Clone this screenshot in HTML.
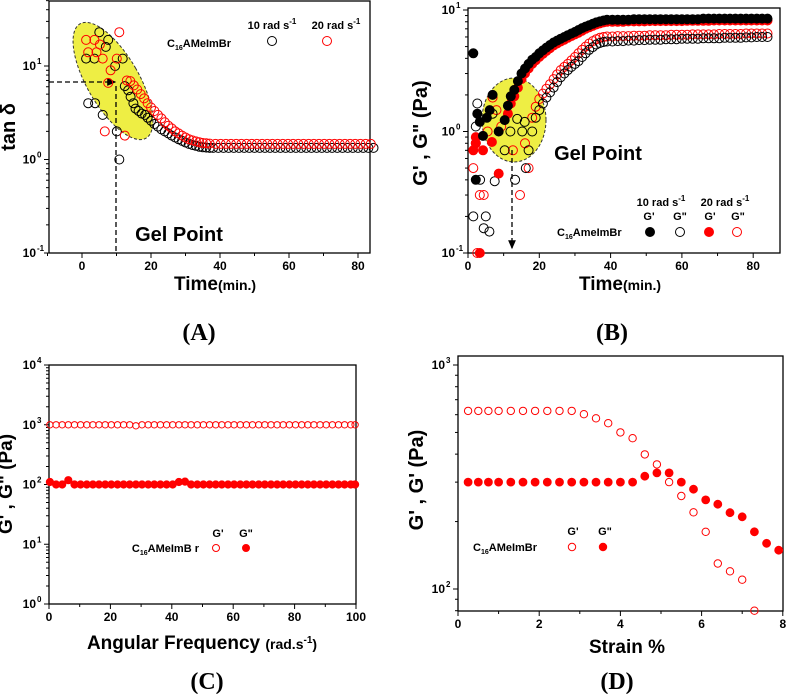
<!DOCTYPE html>
<html><head><meta charset="utf-8">
<style>
html,body{margin:0;padding:0;background:#fff;}
svg{display:block;font-family:"Liberation Sans",Arial,sans-serif;}
.b{font-weight:bold;}
.tm{font-family:"Liberation Serif","Times New Roman",serif;font-weight:bold;}
</style></head>
<body>
<svg id="fig" width="787" height="694" viewBox="0 0 787 694">
<defs>
<marker id="arr" markerWidth="8" markerHeight="8" refX="6" refY="4" orient="auto"><path d="M0,1 L7,4 L0,7 Z" fill="#000"/></marker>
</defs>
<!-- Panel A decorations -->
<ellipse cx="113" cy="81" rx="26" ry="66" transform="rotate(-30 113 81)" fill="#eeee44" stroke="#333" stroke-width="1" stroke-dasharray="3,2"/>
<line x1="49" y1="82" x2="115" y2="82" stroke="#000" stroke-width="1.3" stroke-dasharray="5,3" marker-end="url(#arr)"/>
<line x1="116" y1="86" x2="116" y2="253" stroke="#000" stroke-width="1.3" stroke-dasharray="5,3"/>
<!-- Panel B decorations -->
<ellipse cx="514" cy="120" rx="32" ry="42" fill="#eeee44" stroke="#333" stroke-width="1" stroke-dasharray="3,2"/>
<g id="pa"></g><g id="pb"></g><g id="pc"></g><g id="pd"></g>
<line x1="512" y1="150" x2="512" y2="248" stroke="#000" stroke-width="1.3" stroke-dasharray="5,3" marker-end="url(#arr)"/>

<!-- Titles -->
<text x="15" y="127" class="b" font-size="20" text-anchor="middle" transform="rotate(-90 15 127)">tan δ</text>
<text x="215" y="290" class="b" font-size="19" text-anchor="middle">Time<tspan font-size="14">(min.)</tspan></text>
<text x="199" y="340" class="tm" font-size="24" text-anchor="middle">(A)</text>
<text x="179" y="161" class="b" font-size="20" text-anchor="middle" transform="translate(0,80)">Gel Point</text>
<text x="167" y="47" class="b" font-size="11">C<tspan font-size="7" dy="3">16</tspan><tspan dy="-3">AMeImBr</tspan></text>
<text x="272" y="29" class="b" font-size="11" text-anchor="middle">10 rad s<tspan font-size="8" dy="-5">-1</tspan></text>
<text x="336" y="29" class="b" font-size="11" text-anchor="middle">20 rad s<tspan font-size="8" dy="-5">-1</tspan></text>
<circle cx="272" cy="41" r="4.5" fill="none" stroke="#000"/>
<circle cx="327" cy="41" r="4.5" fill="none" stroke="#f00"/>

<text x="427" y="133" class="b" font-size="20" text-anchor="middle" transform="rotate(-90 427 133)">G' ,  G" (Pa)</text>
<text x="620" y="290" class="b" font-size="19" text-anchor="middle">Time<tspan font-size="14">(min.)</tspan></text>
<text x="612" y="340" class="tm" font-size="24" text-anchor="middle">(B)</text>
<text x="598" y="160" class="b" font-size="20" text-anchor="middle">Gel Point</text>
<text x="661" y="206" class="b" font-size="11" text-anchor="middle">10 rad s<tspan font-size="8" dy="-5">-1</tspan></text>
<text x="725" y="206" class="b" font-size="11" text-anchor="middle">20 rad s<tspan font-size="8" dy="-5">-1</tspan></text>
<text x="649" y="220" class="b" font-size="11" text-anchor="middle">G'</text>
<text x="680" y="220" class="b" font-size="11" text-anchor="middle">G"</text>
<text x="710" y="220" class="b" font-size="11" text-anchor="middle">G'</text>
<text x="738" y="220" class="b" font-size="11" text-anchor="middle">G"</text>
<text x="557" y="236" class="b" font-size="11">C<tspan font-size="7" dy="3">16</tspan><tspan dy="-3">AmeImBr</tspan></text>
<circle cx="650" cy="232" r="4.5" fill="#000" stroke="#000"/>
<circle cx="680" cy="232" r="4.5" fill="none" stroke="#000"/>
<circle cx="709" cy="232" r="4.5" fill="#f00" stroke="#f00"/>
<circle cx="737" cy="232" r="4.5" fill="none" stroke="#f00"/>

<text x="12" y="484" class="b" font-size="19" text-anchor="middle" transform="rotate(-90 12 484)">G' ,  G" (Pa)</text>
<text x="202" y="649" class="b" font-size="19" text-anchor="middle">Angular Frequency <tspan font-size="14">(rad.s<tspan font-size="10" dy="-6">-1</tspan><tspan dy="6">)</tspan></tspan></text>
<text x="207" y="689" class="tm" font-size="24" text-anchor="middle">(C)</text>
<text x="218" y="537" class="b" font-size="11" text-anchor="middle">G'</text>
<text x="246" y="537" class="b" font-size="11" text-anchor="middle">G"</text>
<text x="199" y="552" class="b" font-size="11" text-anchor="end">C<tspan font-size="7" dy="3">16</tspan><tspan dy="-3">AMeImB r</tspan></text>
<circle cx="216" cy="548" r="3.5" fill="none" stroke="#f00"/>
<circle cx="246" cy="548" r="3.5" fill="#f00" stroke="#f00"/>

<text x="423" y="480" class="b" font-size="20" text-anchor="middle" transform="rotate(-90 423 480)">G' ,  G' (Pa)</text>
<text x="627" y="653" class="b" font-size="19" text-anchor="middle">Strain %</text>
<text x="617" y="689" class="tm" font-size="24" text-anchor="middle">(D)</text>
<text x="573" y="535" class="b" font-size="11" text-anchor="middle">G'</text>
<text x="605" y="535" class="b" font-size="11" text-anchor="middle">G"</text>
<text x="473" y="551" class="b" font-size="11">C<tspan font-size="7" dy="3">16</tspan><tspan dy="-3">AMeImBr</tspan></text>
<circle cx="572" cy="547" r="3.7" fill="none" stroke="#f00"/>
<circle cx="603" cy="547" r="3.7" fill="#f00" stroke="#f00"/>
</svg>
<script>
// ---------- Panel A data (tan delta vs time) ----------
const aBlackT=[1.2,1.8,3.6,3.8,5,6,6.9,7.6,9.6,10.1,10.8,11.8,12.4,13.4,14.1,14.9,15.5,16.4,17.3,18.3,19,20,21,22,23,24,25,26,27,28,29,30,31,32,33,34,35,36,37,38,39.5,41,42.5,44,45.5,47,48.5,50,51.5,53,54.5,56,57.5,59,60.5,62,63.5,65,66.5,68,69.5,71,72.5,74,75.5,77,78.5,80,81.5,83,84.5];
const aBlackV=[12,4,12,4,23,3,16,19,10,2,1,12,6.1,5.5,4.7,4.0,3.5,3.3,3.1,3.0,2.8,2.6,2.4,2.25,2.1,2.0,1.9,1.8,1.72,1.65,1.58,1.52,1.47,1.43,1.40,1.37,1.35,1.34,1.33,1.33,1.33,1.33,1.33,1.33,1.33,1.33,1.33,1.33,1.33,1.33,1.33,1.33,1.33,1.33,1.33,1.33,1.33,1.33,1.33,1.33,1.33,1.33,1.33,1.33,1.33,1.33,1.33,1.33,1.33,1.33,1.33];
const aRedT=[1.2,1.8,3.6,4.2,5.2,6,6.6,7.6,8.3,10.1,10.8,12.4,13,14,15,16,17,18,19,20,21,22,23,24,25,26,27,28,29,30,31,32,33,34,35,36,37,38.7,40.2,41.7,43.2,44.7,46.2,47.7,49.2,50.7,52.2,53.7,55.2,56.7,58.2,59.7,61.2,62.7,64.2,65.7,67.2,68.7,70.2,71.7,73.2,74.7,76.2,77.7,79.2,80.7,82.2,83.7];
const aRedV=[19,14,19,14,17,12,2,6.6,9,12,23,1.8,7.0,6.9,6.2,5.6,5.0,4.5,4.0,3.6,3.3,3.0,2.75,2.5,2.3,2.15,2.0,1.9,1.8,1.72,1.65,1.6,1.56,1.53,1.5,1.49,1.48,1.47,1.47,1.47,1.47,1.47,1.47,1.47,1.47,1.47,1.47,1.47,1.47,1.47,1.47,1.47,1.47,1.47,1.47,1.47,1.47,1.47,1.47,1.47,1.47,1.47,1.47,1.47,1.47,1.47,1.47,1.47];
const aXTicks=[0,20,40,60,80];
const aYDecades=[-1,0,1];

// ---------- Panel B data (G', G'' vs time) ----------
const bGp10T=[1.5,2.2,2.6,3.3,4.2,5.3,6.1,6.9,8.6,10.3,11.2,12,13,14,15,16,17,18,19,20,21,22,23,24,25,26,27,28,29,30,31,32,33,34,35,36,37,38,39,40.5,42,43.5,45,46.5,48,49.5,51,52.5,54,55.5,57,58.5,60,61.5,63,64.5,66,67.5,69,70.5,72,73.5,75,76.5,78,79.5,81,82.5,84];
const bGp10V=[4.4,0.4,1.4,1.2,0.92,1.3,1.5,2.0,1.0,1.24,1.63,1.95,2.2,2.6,3.0,3.3,3.6,3.9,4.1,4.4,4.65,4.9,5.15,5.4,5.6,5.8,6.0,6.2,6.4,6.6,6.85,7.1,7.3,7.5,7.7,7.9,8.05,8.2,8.3,8.3,8.3,8.3,8.3,8.4,8.4,8.4,8.4,8.4,8.4,8.4,8.4,8.4,8.4,8.4,8.4,8.4,8.5,8.5,8.5,8.5,8.5,8.5,8.5,8.5,8.5,8.5,8.5,8.5,8.5];
const bGp20T=[1.5,2.2,2.2,3.3,4.2,6.7,8.6,11.2,12,13,14,15,16,17,18,19,20,21,22,23,24,25,26,27,28,29,30,31,32,33,34,35,36,37,38,39,40.5,42,43.5,45,46.5,48,49.5,51,52.5,54,55.5,57,58.5,60,61.5,63,64.5,66,67.5,69,70.5,72,73.5,75,76.5,78,79.5,81,82.5,84];
const bGp20V=[0.7,0.9,0.8,0.1,0.7,0.82,0.45,1.4,1.7,1.95,2.3,2.7,3.0,3.3,3.6,3.85,4.1,4.35,4.6,4.85,5.1,5.3,5.5,5.7,5.9,6.1,6.3,6.5,6.75,7.0,7.2,7.4,7.6,7.75,7.9,8.0,8.0,8.0,8.0,8.05,8.05,8.05,8.05,8.1,8.1,8.1,8.1,8.1,8.1,8.1,8.15,8.15,8.15,8.15,8.15,8.2,8.2,8.2,8.2,8.2,8.2,8.2,8.2,8.2,8.2,8.2];
const bGpp10T=[1.5,2.2,2.6,3.4,4.4,5.0,6.0,6.9,7.5,10.3,11.9,13.2,13.8,15.2,15.9,16.2,17.0,18.0,19,20,21,22,23,24,25,26,27,28,29,30,31,32,33,34,35,36,37,38,39,40.5,42,43.5,45,46.5,48,49.5,51,52.5,54,55.5,57,58.5,60,61.5,63,64.5,66,67.5,69,70.5,72,73.5,75,76.5,78,79.5,81,82.5,84];
const bGpp10V=[0.2,1.1,1.7,0.4,0.16,0.2,0.15,1.4,0.39,0.7,1.0,0.4,1.27,1.0,1.2,0.5,0.7,1.0,1.3,1.5,1.7,1.9,2.1,2.3,2.55,2.8,3.0,3.2,3.4,3.6,3.8,4.1,4.4,4.7,4.95,5.2,5.35,5.45,5.5,5.5,5.55,5.55,5.6,5.6,5.65,5.65,5.7,5.7,5.7,5.75,5.75,5.75,5.8,5.8,5.8,5.8,5.85,5.85,5.85,5.85,5.9,5.9,5.9,5.9,5.95,5.95,6.0,6.0,6.0];
const bGpp20T=[1.5,2.2,2.6,3.3,4.4,5.5,6.9,8,9.3,12.6,14.6,16,17,18,19,20,21,22,23,24,25,26,27,28,29,30,31,32,33,34,35,36,37,38,39,40.5,42,43.5,45,46.5,48,49.5,51,52.5,54,55.5,57,58.5,60,61.5,63,64.5,66,67.5,69,70.5,72,73.5,75,76.5,78,79.5,81,82.5,84];
const bGpp20V=[0.5,0.8,0.1,0.3,0.3,1.0,1.9,1.5,1.1,0.7,0.3,0.8,0.5,1.3,1.6,1.85,2.05,2.25,2.45,2.7,2.95,3.2,3.4,3.6,3.85,4.1,4.4,4.7,5.0,5.3,5.55,5.75,5.9,6.0,6.05,6.05,6.1,6.1,6.1,6.15,6.15,6.15,6.2,6.2,6.2,6.2,6.25,6.25,6.25,6.25,6.3,6.3,6.3,6.3,6.3,6.35,6.35,6.35,6.35,6.35,6.4,6.4,6.4,6.4,6.4];
const bXTicks=[0,20,40,60,80];
const bYDecades=[-1,0,1];

// ---------- Panel C data (frequency sweep) ----------
const cFreq=[0.3,2.3,4.3,6.3,8.3,10.3,12.3,14.3,16.3,18.3,20.3,22.3,24.3,26.3,28.3,30.3,32.3,34.3,36.3,38.3,40.3,42.3,44.3,46.3,48.3,50.3,52.3,54.3,56.3,58.3,60.3,62.3,64.3,66.3,68.3,70.3,72.3,74.3,76.3,78.3,80.3,82.3,84.3,86.3,88.3,90.3,92.3,94.3,96.3,98.3,99.7];
const cGp=[1000,1000,1000,1000,1000,1000,1000,1000,1000,1000,1000,1000,1000,1000,960,1000,1000,1000,1000,1000,1000,1000,1000,1000,1000,1000,1000,1000,1000,1000,1000,1000,1000,1000,1000,1000,1000,1000,1000,1000,1000,1000,1000,1000,1000,1000,1000,1000,1000,1000,1000];
const cGpp=[110,100,100,118,100,100,100,100,100,100,100,100,100,100,100,100,100,100,100,100,100,110,112,100,100,100,100,100,100,100,100,100,100,100,100,100,100,100,100,100,100,100,100,100,100,100,100,100,100,100,100];
const cXTicks=[0,20,40,60,80,100];
const cYDecades=[0,1,2,3,4];

// ---------- Panel D data (strain sweep) ----------
const dStrainGp=[0.25,0.5,0.75,1,1.3,1.6,1.9,2.2,2.5,2.8,3.1,3.4,3.7,4.0,4.3,4.6,4.9,5.2,5.5,5.8,6.1,6.4,6.7,7.0,7.3];
const dGp=[624,624,624,624,624,624,624,624,624,624,603,578,550,500,471,399,360,300,260,220,180,130,120,110,80];
const dStrainGpp=[0.25,0.5,0.75,1,1.3,1.6,1.9,2.2,2.5,2.8,3.1,3.4,3.7,4.0,4.3,4.6,4.9,5.2,5.5,5.8,6.1,6.4,6.7,7.0,7.3,7.6,7.9];
const dGpp=[300,300,300,300,300,300,300,300,300,300,300,300,300,300,300,319,330,330,300,279,250,239,219,210,180,160,149];
const dXTicks=[0,2,4,6,8];
const dYDecades=[2,3];

const NS='http://www.w3.org/2000/svg';
function mk(tag,parent){const e=document.createElementNS(NS,tag);parent.appendChild(e);return e;}
function L10(v){return Math.log(v)/Math.LN10;}

function axes(g,P,xt,xminor,decs,id){
  const fr=mk('rect',g);
  fr.setAttribute('x',P.x0);fr.setAttribute('y',P.y0);fr.setAttribute('width',P.x1-P.x0);fr.setAttribute('height',P.y1-P.y0);
  fr.setAttribute('fill','none');fr.setAttribute('stroke','#000');fr.setAttribute('stroke-width','1.3');
  
  
  xt.forEach(v=>{
    const x=P.sx(v);
    const t=mk('line',g);t.setAttribute('x1',x);t.setAttribute('x2',x);t.setAttribute('y1',P.y1);t.setAttribute('y2',P.y1+5);t.setAttribute('stroke','#000');
    
    
    const lb=mk('text',g);lb.setAttribute('x',x);lb.setAttribute('y',P.y1+17);lb.setAttribute('text-anchor','middle');lb.setAttribute('font-size','12');lb.setAttribute('font-weight','bold');lb.textContent=v;
    
    
  });
  xminor.forEach(v=>{
    const x=P.sx(v);
    const t=mk('line',g);t.setAttribute('x1',x);t.setAttribute('x2',x);t.setAttribute('y1',P.y1);t.setAttribute('y2',P.y1+3);t.setAttribute('stroke','#000');
    
    
  });
  decs.forEach(d=>{
    const y=P.sy(Math.pow(10,d));
    const t=mk('line',g);t.setAttribute('x1',P.x0-5);t.setAttribute('x2',P.x0);t.setAttribute('y1',y);t.setAttribute('y2',y);t.setAttribute('stroke','#000');
    
    
    const lb=mk('text',g);lb.setAttribute('x',P.x0-13);lb.setAttribute('y',y+4);lb.setAttribute('text-anchor','end');lb.setAttribute('font-size','12');lb.setAttribute('font-weight','bold');lb.textContent='10';
    
    
    const ex=mk('text',g);ex.setAttribute('x',P.x0-12);ex.setAttribute('y',y-2);ex.setAttribute('font-size','8');ex.setAttribute('font-weight','bold');ex.textContent=d;
    
    
    for(let m=2;m<10;m++){
      const yy=P.sy(m*Math.pow(10,d));
      if(yy<P.y0-0.5||yy>P.y1+0.5) continue;
      const mt=mk('line',g);mt.setAttribute('x1',P.x0-3);mt.setAttribute('x2',P.x0);mt.setAttribute('y1',yy);mt.setAttribute('y2',yy);mt.setAttribute('stroke','#000');
      
      
    }
  });
  // minor ticks below the first decade if visible
  const d0=decs[0]-1;
  for(let m=2;m<10;m++){
    const yy=P.sy(m*Math.pow(10,d0));
    if(yy<P.y0||yy>P.y1) continue;
    const mt=mk('line',g);mt.setAttribute('x1',P.x0-3);mt.setAttribute('x2',P.x0);mt.setAttribute('y1',yy);mt.setAttribute('y2',yy);mt.setAttribute('stroke','#000');
    
    
  }
}
function series(g,P,xs,ys,r,color,filled,name){
  xs.forEach((x,i)=>{
    const c=mk('circle',g);
    c.setAttribute('cx',P.sx(x).toFixed(1));c.setAttribute('cy',P.sy(ys[i]).toFixed(1));c.setAttribute('r',r);
    c.setAttribute('fill',filled?color:'none');c.setAttribute('stroke',color);c.setAttribute('stroke-width','1');
    
    
  });
}

const PA={x0:49,x1:370,y0:1,y1:253,sx:v=>82+v*3.45,sy:v=>253-(L10(v)+1)*93.5};
const PB={x0:468,x1:780,y0:8,y1:253,sx:v=>468+v*3.565,sy:v=>253-(L10(v)+1)*121.5};
const PC={x0:49,x1:356,y0:365,y1:604,sx:v=>49+v*3.07,sy:v=>604-L10(v)*59.75};
const PD={x0:458,x1:783,y0:356,y1:611,sx:v=>458+v*40.6,sy:v=>589-(L10(v)-2)*224};

const ga=document.getElementById('pa'),gb=document.getElementById('pb'),gc=document.getElementById('pc'),gd=document.getElementById('pd');
axes(ga,PA,aXTicks,[-10,10,30,50,70],aYDecades,'a');
series(ga,PA,aBlackT,aBlackV,4.5,'#000',false,'point-tan-delta-10rad');
series(ga,PA,aRedT,aRedV,4.5,'#f00',false,'point-tan-delta-20rad');

axes(gb,PB,bXTicks,[10,30,50,70],bYDecades,'b');
series(gb,PB,bGpp20T,bGpp20V,4.5,'#f00',false,'point-gpp-20rad');
series(gb,PB,bGpp10T,bGpp10V,4.5,'#000',false,'point-gpp-10rad');
series(gb,PB,bGp20T,bGp20V,4.5,'#f00',true,'point-gp-20rad');
series(gb,PB,bGp10T,bGp10V,4.5,'#000',true,'point-gp-10rad');

axes(gc,PC,cXTicks,[10,30,50,70,90],cYDecades,'c');
series(gc,PC,cFreq,cGp,3.2,'#f00',false,'point-gp-freq');
series(gc,PC,cFreq,cGpp,3.6,'#f00',true,'point-gpp-freq');

axes(gd,PD,dXTicks,[1,3,5,7],dYDecades,'d');
series(gd,PD,dStrainGp,dGp,3.7,'#f00',false,'point-gp-strain');
series(gd,PD,dStrainGpp,dGpp,3.9,'#f00',true,'point-gpp-strain');
</script>
</body></html>
